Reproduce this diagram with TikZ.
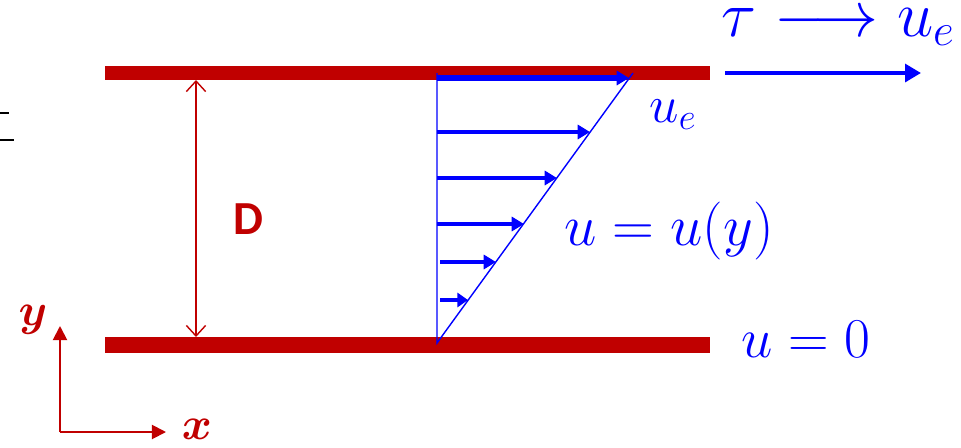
\RequirePackage{fix-cm}
\documentclass[tikz,border=0pt]{standalone}
\usepackage{amsmath,amssymb,bm,fontspec}
\usetikzlibrary{arrows.meta}
\newfontfamily\dfont{Carlito}
\definecolor{wallred}{RGB}{192,0,0}
\definecolor{flowblue}{RGB}{0,0,255}

\begin{document}
\begin{tikzpicture}[x=0.02cm, y=-0.02cm,
    plate/.style={fill=wallred, draw=none},
    vel/.style={flowblue, line width=2.4pt, -{Triangle[length=7pt, width=8pt]}},
    lbl/.style={flowblue, inner sep=0pt, anchor=base, font=\fontsize{33}{40}\selectfont},
    axis/.style={wallred, line width=1.1pt, -{Triangle[length=8pt, width=8pt]}}]

		\useasboundingbox (0,0) rectangle (961,447);

		% Coordinates (pixel grid, y downwards)
		\coordinate (gtop) at (196,80);
		\coordinate (gbot) at (196,337);

		\coordinate (o) at (60,432);
		\coordinate (ya) at (60,326);
		\coordinate (xa) at (166,432);

		\coordinate (ptop) at (437,73);
		\coordinate (p0) at (437,343);
		\coordinate (pe) at (633,73);

		\coordinate (drag0) at (725,73);
		\coordinate (drag1) at (921,73);

		% Cut-off mark at the left edge (black)
		\draw[line width=1.2pt] (0,113) -- (9,113);
		\draw[line width=1.2pt] (0,140) -- (14,140);

		% Plates (red)
		\fill[plate] (105,66) rectangle (710,80);
		\fill[plate] (105,337) rectangle (710,353);

		% Gap D
		\draw[wallred, line width=0.8pt, {Straight Barb[length=6pt, width=11pt]}-{Straight Barb[length=6pt, width=11pt]}] (gtop) -- (gbot);
		\node[wallred, font=\dfont\bfseries\fontsize{27}{32}\selectfont] (dlabel) at (248,219) {D};

		% Axes (red)
		\draw[axis] (o) -- (ya);
		\draw[axis] (o) -- (xa);
		\node[wallred, font=\fontsize{26}{30}\selectfont] (ylabel) at (33,320) {$\bm{y}$};
		\node[wallred, font=\fontsize{26}{30}\selectfont] (xlabel) at (197,429) {$\bm{x}$};

		% Velocity profile (blue)
		\draw[flowblue, line width=0.8pt] (ptop) -- (p0) -- (pe);
		\draw[vel, line width=3pt] (437,78) -- (629,78);
		\draw[vel] (437,132) -- (590,132);
		\draw[vel] (437,178) -- (557,178);
		\draw[vel] (437,224) -- (524,224);
		\draw[vel] (440,262) -- (496,262);
		\draw[vel, -{Triangle[length=6pt, width=8pt]}] (440,300) -- (468,300);

		% Labels (blue)
		\node[lbl, font=\fontsize{30}{36}\selectfont] (ue) at (673,122) {$u_e$};
		\node[lbl] (uy) at (669,245) {$u=u(y)$};
		\node[lbl, font=\fontsize{32}{38}\selectfont] (u0) at (806,357) {$u=0$};
		\node[lbl, font=\fontsize{37}{44}\selectfont] (tau) at (838,36) {$\tau\longrightarrow u_e$};

		% Drag direction
		\draw[flowblue, line width=2.8pt, -{Triangle[length=9pt, width=10pt]}] (drag0) -- (drag1);

	\end{tikzpicture}
\end{document}
